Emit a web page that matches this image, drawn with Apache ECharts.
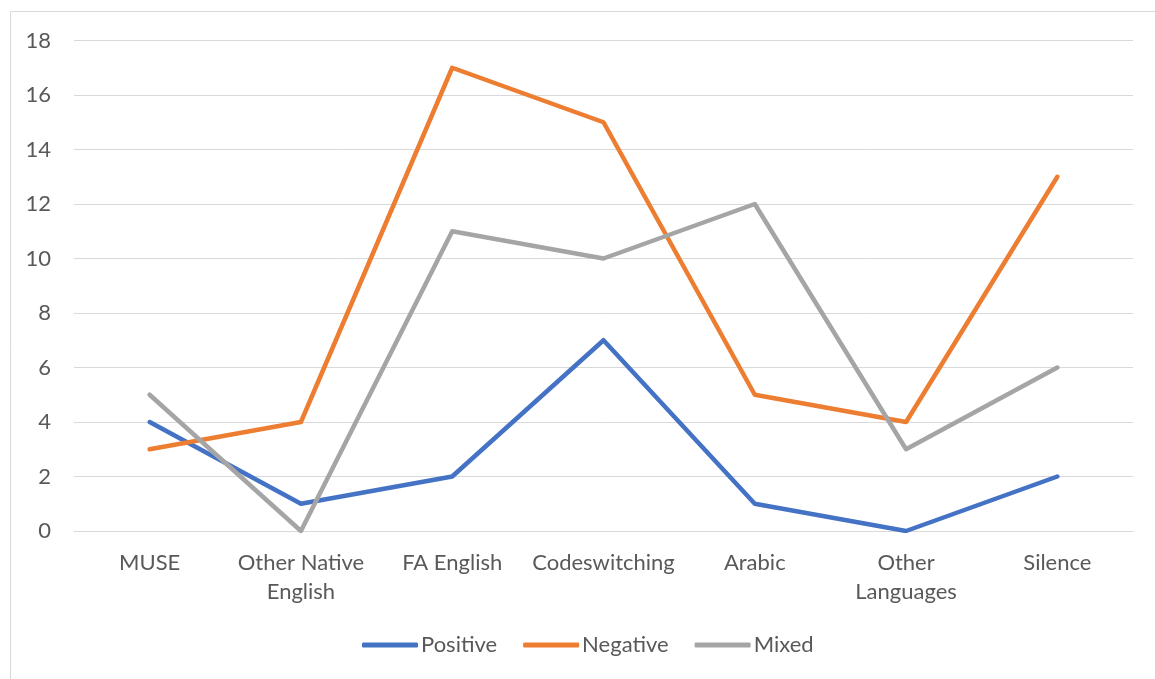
<!DOCTYPE html>
<html>
<head>
<meta charset="utf-8">
<script src="https://cdn.jsdelivr.net/npm/echarts@6/dist/echarts.min.js"></script>
<style>
  html, body { margin: 0; padding: 0; background: #fff; }
  #chart { width: 1155px; height: 679px; }
</style>
</head>
<body>
<div id="chart"></div>
<script>
// categories and series values
const categories = ['MUSE', 'Other Native\nEnglish', 'FA English', 'Codeswitching', 'Arabic', 'Other\nLanguages', 'Silence'];
const positive = [4, 1, 2, 7, 1, 0, 2];
const negative = [3, 4, 17, 15, 5, 4, 13];
const mixed = [5, 0, 11, 10, 12, 3, 6];

const font = 'Lato, "Open Sans", sans-serif';

const chart = echarts.init(document.getElementById('chart'));

function lineSeries(name, data, color) {
  return {
    name: name,
    type: 'line',
    data: data,
    symbol: 'none',
    lineStyle: { width: 4.5, color: color, cap: 'round', join: 'round' },
    itemStyle: { color: color },
    animation: false
  };
}

chart.setOption({
  animation: false,
  color: ['#4472C4', '#ED7D31', '#A5A5A5'],
  // light frame round the chart, as in the original
  graphic: [{
    type: 'rect',
    shape: { x: 10.5, y: 11.5, width: 1300, height: 800 },
    style: { fill: 'none', stroke: '#d9d9d9', lineWidth: 1 },
    silent: true
  }],
  grid: {
    left: 74,
    right: 22,
    top: 40.5,
    bottom: 148
  },
  legend: {
    bottom: 18,
    left: 357,
    itemWidth: 56,
    itemHeight: 5,
    itemGap: 26,
    icon: 'roundRect',
    textStyle: { fontFamily: font, fontSize: 22, color: '#595959', padding: [0, 0, 0, -2] },
    data: ['Positive', 'Negative', 'Mixed']
  },
  xAxis: {
    type: 'category',
    data: categories,
    boundaryGap: true,
    axisLine: { show: true, lineStyle: { color: '#d9d9d9', width: 1 } },
    axisTick: { show: false },
    axisLabel: {
      fontFamily: font,
      fontSize: 22,
      color: '#595959',
      lineHeight: 29,
      margin: 17,
      interval: 0
    }
  },
  yAxis: {
    type: 'value',
    min: 0,
    max: 18,
    interval: 2,
    axisLine: { show: false },
    axisTick: { show: false },
    splitLine: { lineStyle: { color: '#d9d9d9', width: 1 } },
    axisLabel: {
      fontFamily: font,
      fontSize: 22,
      color: '#595959',
      margin: 23
    }
  },
  series: [
    lineSeries('Positive', positive, '#4472C4'),
    lineSeries('Negative', negative, '#ED7D31'),
    lineSeries('Mixed', mixed, '#A5A5A5')
  ]
});
</script>
</body>
</html>
